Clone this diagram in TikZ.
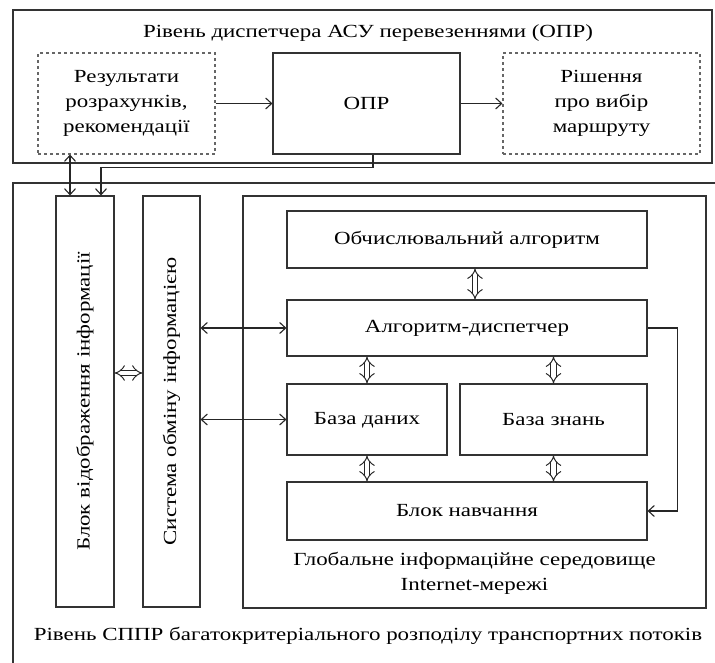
\documentclass[tikz,border=0pt]{standalone}
\usepackage{fontspec}
\setmainfont{Liberation Serif}[FakeStretch=1.24]
\usepackage{tikz}
\usetikzlibrary{arrows.meta}

\begin{document}
\begin{tikzpicture}[x=1pt, y=-1pt,
        box/.style={draw=black!80, line width=1.1pt, align=center, font=\fontsize{18.5}{25}\selectfont},
        dbox/.style={box, dashed, draw=black!60},
        lbl/.style={align=center, font=\fontsize{18.5}{25}\selectfont},
        arr/.style={draw=black!85, line width=1.1pt, ->, >={Straight Barb[length=6pt, width=11pt]}},
        biarr/.style={arr, <->},
        hollow/.style={draw=black!85, line width=1pt, double, double distance=4.5pt, {Implies}-{Implies}}]
            \useasboundingbox (0,0) rectangle (715,662);

            \node[box, minimum width=699, minimum height=153] (topLevel) at (362.5,86.5) {};
            \node[lbl] (topTitle) at (368,33) {Рівень диспетчера АСУ перевезеннями (ОПР)};

            \node[dbox, minimum width=177, minimum height=101] (res) at (126.5,103.5) {Результати\\розрахунків,\\рекомендації};
            \node[box, minimum width=187, minimum height=101] (opr) at (366.5,103.5) {ОПР};
            \node[dbox, minimum width=197, minimum height=101] (rish) at (601.5,103.5) {Рішення\\про вибір\\маршруту};

            \draw[arr] (res) -- (opr);
            \draw[arr] (opr) -- (rish);

            \node[box, minimum width=717, minimum height=517] (bottomLevel) at (371.5,441.5) {};
            \node[lbl] (bottomTitle) at (368,636) {Рівень СППР багатокритеріального розподілу транспортних потоків};

            \node[box, minimum width=58, minimum height=411] (blok) at (85,401.5) {};
            \node[lbl, rotate=90] (blokText) at (blok) {Блок відображення інформації};
            \node[box, minimum width=57, minimum height=411] (sys) at (171.5,401.5) {};
            \node[lbl, rotate=90] (sysText) at (sys) {Система обміну інформацією};
            \node[box, minimum width=463, minimum height=412] (global) at (474.5,402) {};
            \node[lbl] (globalTitle) at (474.5,573) {Глобальне інформаційне середовище\\Internet-мережі};

            \node[box, minimum width=360, minimum height=57] (obch) at (467,239.5) {Обчислювальний алгоритм};
            \node[box, minimum width=360, minimum height=56] (alg) at (467,328) {Алгоритм-диспетчер};
            \node[box, minimum width=160, minimum height=71] (bd) at (367,419.5) {База даних\vphantom{й}};
            \node[box, minimum width=187, minimum height=71] (bz) at (553.5,419.5) {База знань\vphantom{й}};
            \node[box, minimum width=360, minimum height=58] (bn) at (467,511) {Блок навчання};

            \draw[biarr] ([xshift=-15pt]blok.north) -- ([xshift=-15pt]blok.north |- res.south);
            \draw[arr] ([xshift=6.5pt]opr.south) -- ++(0,13) -| ([xshift=16pt]blok.north);

            \draw[hollow] (blok.east |- 0,373) -- (sys.west |- 0,373);
            \draw[biarr] (sys.east |- alg.west) -- (alg.west);
            \draw[biarr] (sys.east |- bd.west) -- (bd.west);

            \draw[hollow] ([xshift=8pt]obch.south) -- ([xshift=8pt]alg.north);
            \draw[hollow] (alg.south -| bd) -- (bd.north);
            \draw[hollow] (alg.south -| bz) -- (bz.north);
            \draw[hollow] (bd.south) -- (bn.north -| bd);
            \draw[hollow] (bz.south) -- (bn.north -| bz);

            \draw[arr] (alg.east) -- ++(30,0) |- (bn.east);
\end{tikzpicture}
\end{document}
